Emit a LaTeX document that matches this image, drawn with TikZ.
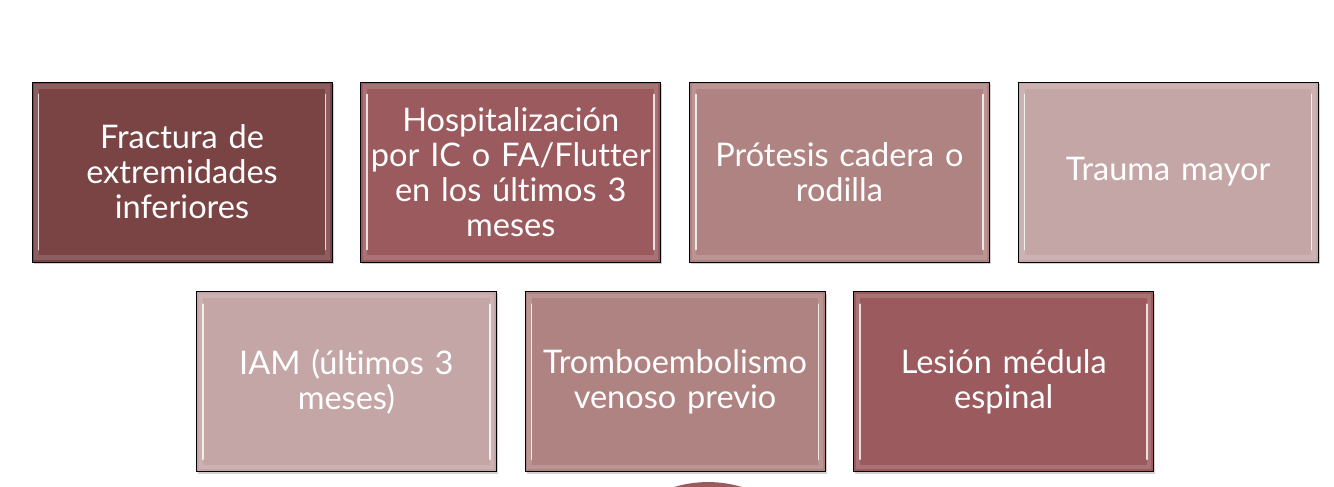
\documentclass[tikz,border=0pt]{standalone}
\usepackage{fontspec}
\setmainfont{Lato}[Ligatures=NoCommon]
\usetikzlibrary{calc, positioning, shadows}
\definecolor{riskdark}{RGB}{122,68,69}
\definecolor{riskmid}{RGB}{155,91,94}
\definecolor{risklight}{RGB}{176,131,131}
\definecolor{riskpale}{RGB}{196,166,167}

\begin{document}
\begin{tikzpicture}[
    font=\fontsize{18.5}{20}\selectfont,
    node distance=0.58cm and 0.56cm,
    riskbox/.style={rectangle, draw=black, thin, text=white,
                    minimum width=6cm, minimum height=3.6cm,
                    text width=5.9cm, align=center, inner sep=0pt,
                    drop shadow={shadow xshift=0.03cm, shadow yshift=-0.04cm, opacity=0.35},
                    path picture={
                      \draw[white, opacity=0.14, line width=2.5pt]
                        ([shift={(0.09,-0.09)}]path picture bounding box.north west)
                        rectangle ([shift={(-0.09,0.09)}]path picture bounding box.south east);
                      \draw[white, opacity=0.8, line width=0.9pt, line cap=round]
                        ([shift={(0.13,-0.25)}]path picture bounding box.north west)
                        -- ([shift={(0.13,0.25)}]path picture bounding box.south west);
                      \draw[white, opacity=0.8, line width=0.9pt, line cap=round]
                        ([shift={(-0.13,-0.25)}]path picture bounding box.north east)
                        -- ([shift={(-0.13,0.25)}]path picture bounding box.south east);
                    }},
    darkbox/.style={riskbox, fill=riskdark},
    midbox/.style={riskbox, fill=riskmid},
    lightbox/.style={riskbox, fill=risklight},
    palebox/.style={riskbox, fill=riskpale}
]
% Page frame (clips the circle at the bottom edge)
\clip (0,0) rectangle (26.68,-9.72);
\fill[white] (0,0) rectangle (26.68,-9.72);

% Row 1: four risk factors
\node[darkbox] (fract) at (3.64,-3.44) {Fractura de\\extremidades\\inferiores};
\node[midbox, right=of fract] (hosp) {Hospitalización\\por IC o FA/Flutter\\en los últimos 3\\meses};
\node[lightbox, right=of hosp] (prot) {Prótesis cadera o\\rodilla};
\node[palebox, right=of prot] (trauma) {Trauma mayor};

% Row 2: three risk factors, offset half a column
\coordinate (rowmid) at ($(fract.south)!0.5!(hosp.south)$);
\node[palebox, below=0.58cm of rowmid, anchor=north] (iam) {IAM (últimos 3\\meses)};
\node[lightbox, right=of iam] (tev) {Tromboembolismo\\venoso previo};
\node[midbox, right=of tev] (lesion) {Lesión médula\\espinal};

% Shape cut off by the lower edge
\fill[riskmid] ([xshift=0.66cm, yshift=-0.2cm]tev.south) ++(0,-2.36) circle (2.36cm);
\end{tikzpicture}
\end{document}
